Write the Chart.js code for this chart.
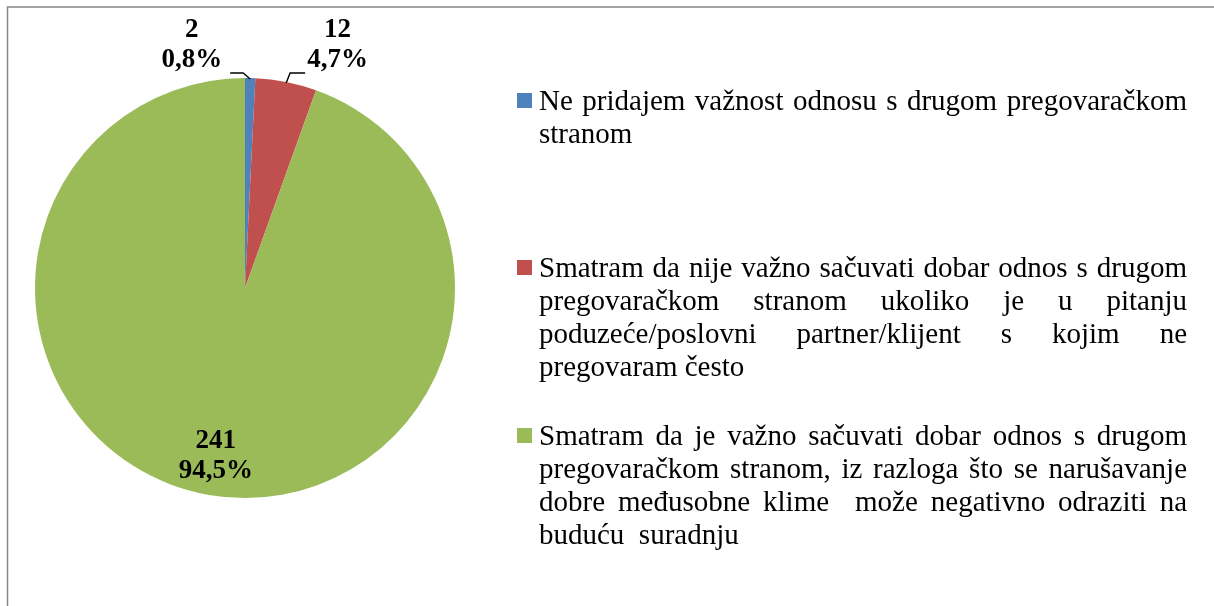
<!DOCTYPE html>
<html>
<head>
<meta charset="utf-8">
<script src="https://cdn.jsdelivr.net/npm/chart.js@4/dist/chart.umd.min.js"></script>
<style>
  html, body { margin: 0; padding: 0; background: #fff; }
  canvas { display: block; }
</style>
</head>
<body>
<canvas id="pie" width="1214" height="606"></canvas>
<script>
const categories = [
  "Ne pridajem važnost odnosu s drugom pregovaračkom stranom",
  "Smatram da nije važno sačuvati dobar odnos s drugom pregovaračkom stranom ukoliko je u pitanju poduzeće/poslovni partner/klijent s kojim ne pregovaram često",
  "Smatram da je važno sačuvati dobar odnos s drugom pregovaračkom stranom, iz razloga što se narušavanje dobre međusobne klime  može negativno odraziti na buduću  suradnju"
];
const legendLines = [
  ["Ne pridajem važnost odnosu s drugom pregovaračkom", "stranom"],
  ["Smatram da nije važno sačuvati dobar odnos s drugom", "pregovaračkom stranom ukoliko je u pitanju",
   "poduzeće/poslovni partner/klijent s kojim ne", "pregovaram često"],
  ["Smatram da je važno sačuvati dobar odnos s drugom", "pregovaračkom stranom, iz razloga što se narušavanje",
   "dobre međusobne klime  može negativno odraziti na", "buduću  suradnju"]
];
const counts = [2, 12, 241];
const percentLabels = ["0,8%", "4,7%", "94,5%"];
const colors = ["#4F81BD", "#C0504D", "#9BBB59"];
const labelPlacement = ["left", "right", "inside"];

const serif = '"Liberation Serif", "Times New Roman", serif';

const framePlugin = {
  id: "frame",
  beforeDraw(chart) {
    const ctx = chart.ctx;
    ctx.save();
    ctx.fillStyle = "#fff";
    ctx.fillRect(0, 0, chart.width, chart.height);
    ctx.strokeStyle = "#868686";
    ctx.lineWidth = 1.5;
    ctx.strokeRect(7.5, 7, chart.width + 50, chart.height + 50);
    ctx.restore();
  }
};

const labelsPlugin = {
  id: "sliceLabels",
  afterDatasetsDraw(chart) {
    const ctx = chart.ctx;
    const arcs = chart.getDatasetMeta(0).data;
    ctx.save();
    ctx.font = "bold 27px " + serif;
    ctx.fillStyle = "#000";
    ctx.textBaseline = "alphabetic";
    ctx.textAlign = "center";
    arcs.forEach((arc, i) => {
      const p = arc.getProps(["x", "y", "startAngle", "endAngle", "outerRadius"], true);
      const mid = (p.startAngle + p.endAngle) / 2;
      const lines = [String(counts[i]), percentLabels[i]];
      if (labelPlacement[i] === "inside") {
        const d = p.outerRadius * 0.81;
        const cx = p.x + Math.cos(mid) * d;
        const cy = p.y + Math.sin(mid) * d;
        ctx.fillText(lines[0], cx, cy - 8);
        ctx.fillText(lines[1], cx, cy + 22);
        return;
      }
      const ex = p.x + Math.cos(mid) * p.outerRadius;
      const ey = p.y + Math.sin(mid) * p.outerRadius;
      const left = labelPlacement[i] === "left";
      const elbowX = ex + (left ? -7 : 4);
      const elbowY = p.y - p.outerRadius - 5;
      const endX = elbowX + (left ? -13 : 15);
      ctx.strokeStyle = "#000";
      ctx.lineWidth = 1.4;
      ctx.beginPath();
      ctx.moveTo(ex, ey + 1);
      ctx.lineTo(elbowX, elbowY);
      ctx.lineTo(endX, elbowY);
      ctx.stroke();
      const w = Math.max(...lines.map(t => ctx.measureText(t).width));
      const cx = left ? endX - 8 - w / 2 : endX + 2 + w / 2;
      ctx.fillText(lines[0], cx, elbowY - 36);
      ctx.fillText(lines[1], cx, elbowY - 6);
    });
    ctx.restore();
  }
};

function drawJustified(ctx, text, x, y, width, justify) {
  const words = text.split(" ");
  if (!justify || words.length < 2) {
    ctx.fillText(text, x, y);
    return;
  }
  const wordsW = words.reduce((s, w) => s + ctx.measureText(w).width, 0);
  const gap = (width - wordsW) / (words.length - 1);
  let cx = x;
  words.forEach(w => {
    ctx.fillText(w, cx, y);
    cx += ctx.measureText(w).width + gap;
  });
}

const legendPlugin = {
  id: "sideLegend",
  afterDraw(chart) {
    const ctx = chart.ctx;
    const baselines = [110, 277, 445];
    const lineGap = 33;
    const textX = 539;
    const textW = 648;
    ctx.save();
    ctx.font = "29px " + serif;
    ctx.textAlign = "left";
    ctx.textBaseline = "alphabetic";
    legendLines.forEach((lines, i) => {
      ctx.fillStyle = colors[i];
      ctx.fillRect(517, baselines[i] - 17, 15, 15);
      ctx.fillStyle = "#000";
      lines.forEach((line, j) => {
        drawJustified(ctx, line, textX, baselines[i] + j * lineGap, textW, j < lines.length - 1);
      });
    });
    ctx.restore();
  }
};

new Chart(document.getElementById("pie"), {
  type: "pie",
  data: {
    labels: categories,
    datasets: [{
      data: counts,
      backgroundColor: colors,
      borderWidth: 0
    }]
  },
  options: {
    responsive: false,
    animation: false,
    layout: { padding: { left: 35, right: 759, top: 78, bottom: 108 } },
    plugins: {
      legend: { display: false },
      tooltip: { enabled: false }
    }
  },
  plugins: [framePlugin, labelsPlugin, legendPlugin]
});
</script>
</body>
</html>
